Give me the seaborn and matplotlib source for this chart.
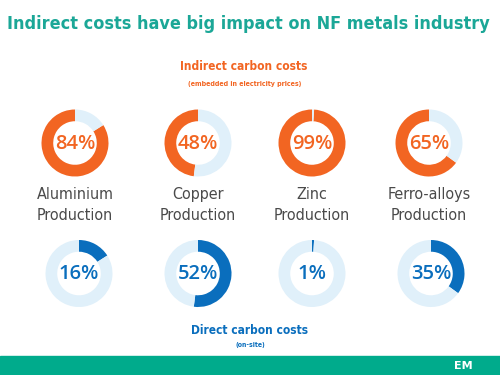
import matplotlib
matplotlib.use("Agg")
import matplotlib.pyplot as plt
import seaborn as sns
from matplotlib.patches import Rectangle

# Data
metals = ["Aluminium\nProduction", "Copper\nProduction", "Zinc\nProduction", "Ferro-alloys\nProduction"]
indirect_share = [84, 48, 99, 65]
direct_share = [16, 52, 1, 35]

title = "Indirect costs have big impact on NF metals industry"
indirect_title = "Indirect carbon costs"
indirect_note = "(embedded in electricity prices)"
direct_title = "Direct carbon costs"
direct_note = "(on-site)"

sns.set_theme(style="white")
plt.rcParams["font.family"] = ["DejaVu Sans"]

orange = "#F26522"
blue = "#0A6EBD"
pale = "#E0F0FA"
teal = "#1BA797"
footer = "#00AB8C"
grey = "#4A4A4A"

W, H = 500, 375
fig = plt.figure(figsize=(5, 3.75), dpi=100)
fig.patch.set_facecolor("white")
renderer = fig.canvas.get_renderer()


def px(x, y):
    return x / W, 1 - y / H


def donut(cx, cy, r, value, color, ccw):
    ax = fig.add_axes([(cx - r) / W, 1 - (cy + r) / H, 2 * r / W, 2 * r / H])
    ax.pie([value, 100 - value], colors=sns.color_palette([color, pale]),
           startangle=90, counterclock=ccw,
           wedgeprops=dict(width=0.35, linewidth=0))
    ax.set_xlim(-1, 1)
    ax.set_ylim(-1, 1)
    ax.set_aspect("equal")
    ax.axis("off")
    ax.text(0, -0.02, f"{value}%", ha="center", va="center", color=color,
            family=["Open Sans", "DejaVu Sans"], weight="semibold", fontsize=14.5)


def fit(t, width_px):
    bb = t.get_window_extent(renderer)
    t.set_fontsize(t.get_fontsize() * width_px / bb.width)


cond = dict(stretch="condensed", weight="bold")

# titles
t = fig.text(*px(248, 24), title, ha="center", va="center", color=teal, fontsize=20, **cond)
fit(t, 480)
t = fig.text(*px(244, 67), indirect_title, ha="center", va="center", color=orange, fontsize=14, **cond)
fit(t, 128)
t = fig.text(*px(245, 84), indirect_note, ha="center", va="center", color=orange, fontsize=7, **cond)
fit(t, 114)
t = fig.text(*px(250, 330), direct_title, ha="center", va="center", color=blue, fontsize=14, **cond)
fit(t, 118)
t = fig.text(*px(250, 345), direct_note, ha="center", va="center", color=blue, fontsize=7, **cond)
fit(t, 30)

top_x = [75, 198, 312, 429]
bot_x = [79, 198, 312, 431]
for i, name in enumerate(metals):
    donut(top_x[i], 143, 33.5, indirect_share[i], orange, True)
    donut(bot_x[i], 273.5, 33.5, direct_share[i], blue, False)
    fig.text(*px(top_x[i], 205), name, ha="center", va="center", color=grey,
             fontsize=11.5, linespacing=1.45, stretch="condensed")

# footer band
fig.patches.append(Rectangle((0, 0), 1, 19 / H, transform=fig.transFigure,
                             color=footer, zorder=0))
fig.text(*px(463, 366), "EM", ha="center", va="center", color="white",
         fontsize=8, weight="bold")

plt.savefig("out.png", dpi=100)
plt.close()
